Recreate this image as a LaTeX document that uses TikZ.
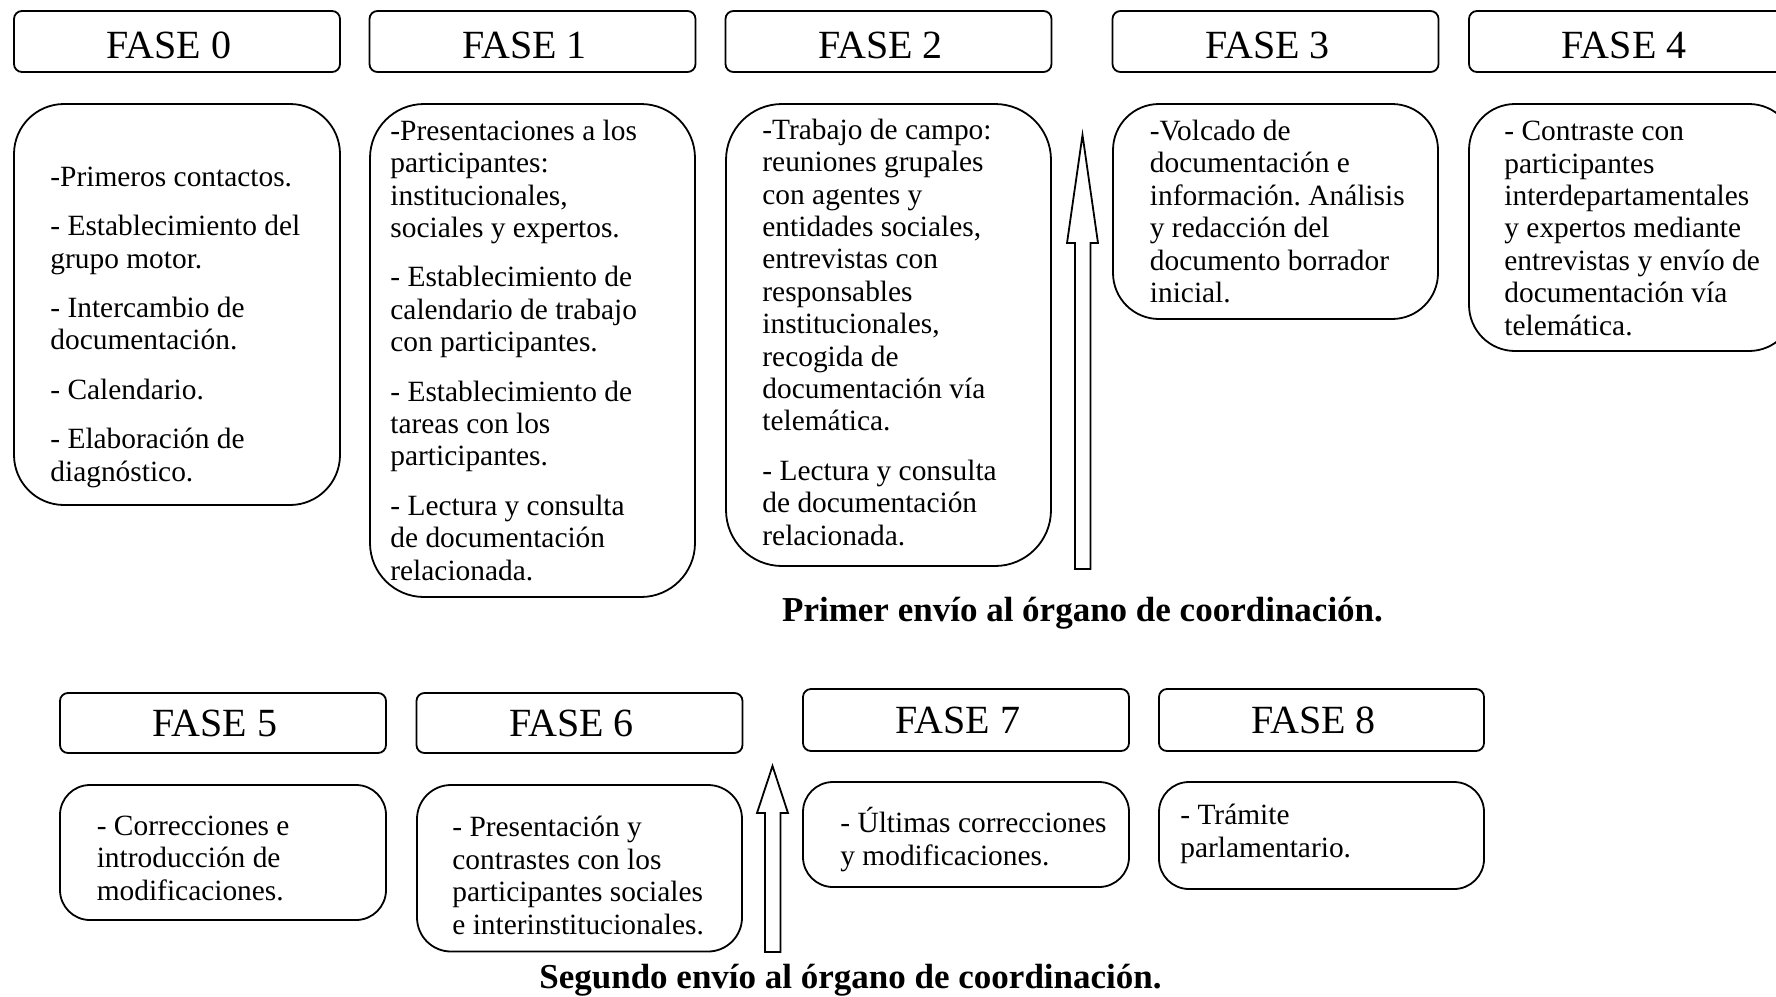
\documentclass[tikz,border=0pt]{standalone}
\usepackage{fontspec}
\setmainfont{Liberation Serif}
\usetikzlibrary{fit}
\newcommand\hdrpad{\hspace*{8pt}}
\frenchspacing
\begin{document}
\begin{tikzpicture}[x=0.5pt,y=-0.5pt,
  hdr/.style={draw, line width=0.9pt, rounded corners=4pt, inner sep=0pt,
    minimum width=163pt, minimum height=30.5pt, text height=13.2pt, text depth=0pt,
    font=\fontsize{20}{22}\selectfont},
  hdrlow/.style={hdr, text height=16.7pt},
  cbox/.style={draw, line width=0.9pt, inner sep=0pt},
  body/.style={anchor=base west, align=left, inner sep=0pt, font=\frenchspacing\fontsize{14.7}{16.2}\selectfont},
  capt/.style={anchor=base, inner sep=0pt, font=\bfseries\fontsize{17.5}{20}\selectfont},
  bigarrow/.style={draw, line width=0.9pt, fill=white}]
\useasboundingbox (0,0) rectangle (1776,996);
\clip (0,0) rectangle (1776,996);
% ---------- top row headers ----------
\node[hdrlow] (h0) at (177,41.5) {FASE 0\hdrpad};
\node[hdrlow] (h1) at (532.5,41.5) {FASE 1\hdrpad};
\node[hdrlow] (h2) at (888.5,41.5) {FASE 2\hdrpad};
\node[hdrlow] (h3) at (1275.5,41.5) {FASE 3\hdrpad};
\node[hdrlow] (h4) at (1632,41.5) {FASE 4\hdrpad};
% ---------- top row content boxes ----------
\node[cbox, rounded corners=25pt, fit={(14,104) (340,505)}] (c0) {};
\node[cbox, rounded corners=27pt, fit={(370,104) (695,597)}] (c1) {};
\node[cbox, rounded corners=28pt, fit={(726,104) (1051,566)}] (c2) {};
\node[cbox, rounded corners=23pt, fit={(1113,104) (1438,319)}] (c3) {};
\node[cbox, rounded corners=23pt, fit={(1469,104) (1795,351)}] (c4) {};
% ---------- top row texts (anchored at the baseline of the last line) ----------
\node[body] (t0) at (50,481) {-Primeros contactos.\\[8.5pt]
- Establecimiento del\\grupo motor.\\[8.5pt]
- Intercambio de\\documentación.\\[8.5pt]
- Calendario.\\[8.5pt]
- Elaboración de\\diagnóstico.};
\node[body] (t1) at (390,580) {-Presentaciones a los\\participantes:\\institucionales,\\sociales y expertos.\\[8.5pt]
- Establecimiento de\\calendario de trabajo\\con participantes.\\[8.5pt]
- Establecimiento de\\tareas con los\\participantes.\\[8.5pt]
- Lectura y consulta\\de documentación\\relacionada.};
\node[body] (t2) at (762,545) {-Trabajo de campo:\\reuniones grupales\\con agentes y\\entidades sociales,\\entrevistas con\\responsables\\institucionales,\\recogida de\\documentación vía\\telemática.\\[8.5pt]
- Lectura y consulta\\de documentación\\relacionada.};
\node[body] (t3) at (1149.5,302.5) {-Volcado de\\documentación e\\información. Análisis\\y redacción del\\documento borrador\\inicial.};
\node[body] (t4) at (1504,335) {- Contraste con\\participantes\\interdepartamentales\\y expertos mediante\\entrevistas y envío de\\documentación vía\\telemática.};
% ---------- first arrow and caption ----------
\draw[bigarrow] (1075,569) -- (1075,243) -- (1067,243) -- (1082.5,135) -- (1098,243) -- (1090.5,243) -- (1090.5,569) -- cycle;
\node[capt] (cap1) at (1082.5,621.7) {Primer envío al órgano de coordinación.};
% ---------- bottom row headers ----------
\node[hdr, minimum height=30pt] (h5) at (223,723) {FASE 5\hdrpad};
\node[hdr, minimum height=30pt] (h6) at (579.5,723) {FASE 6\hdrpad};
\node[hdr, minimum height=31pt] (h7) at (966,720) {FASE 7\hdrpad};
\node[hdr, minimum height=31pt, minimum width=162.5pt] (h8) at (1321.5,720) {FASE 8\hdrpad};
% ---------- bottom row content boxes ----------
\node[cbox, rounded corners=15pt, fit={(60,785) (386,920)}] (c5) {};
\node[cbox, rounded corners=17pt, fit={(417,785) (742,951.5)}] (c6) {};
\node[cbox, rounded corners=15pt, fit={(803,782) (1129,887)}] (c7) {};
\node[cbox, rounded corners=15pt, fit={(1159,782) (1484,889)}] (c8) {};
% ---------- bottom row texts ----------
\node[body] (t5) at (96.4,900) {- Correcciones e\\introducción de\\modificaciones.};
\node[body] (t6) at (452,934) {- Presentación y\\contrastes con los\\participantes sociales\\e interinstitucionales.};
\node[body] (t7) at (840,865) {- Últimas correcciones\\y modificaciones.};
\node[body] (t8) at (1180,857) {- Trámite\\parlamentario.};
% ---------- second arrow and caption ----------
\draw[bigarrow] (765,952) -- (765,813) -- (757,813) -- (772.5,766) -- (788,813) -- (780.5,813) -- (780.5,952) -- cycle;
\node[capt] (cap2) at (850.5,988) {Segundo envío al órgano de coordinación.};
\end{tikzpicture}
\end{document}
